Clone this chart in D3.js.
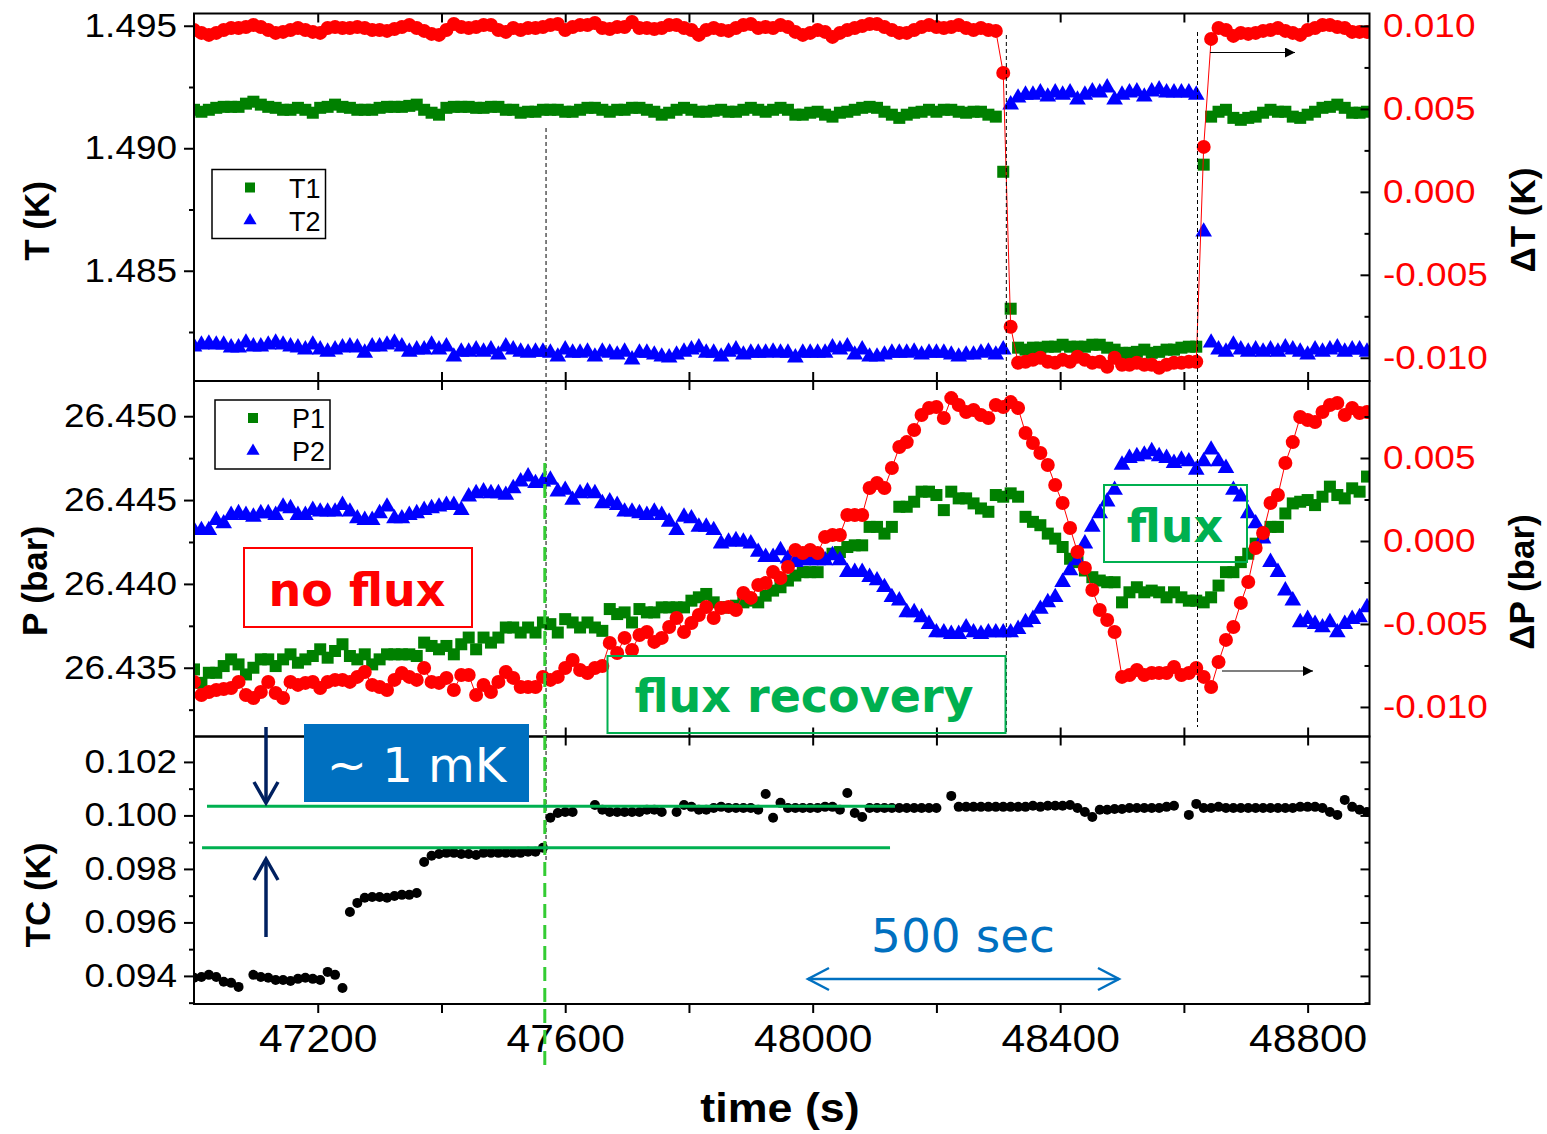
<!DOCTYPE html>
<html>
<head>
<meta charset="utf-8">
<script src="https://cdn.jsdelivr.net/npm/d3@7"></script>
<style>
  body { margin: 0; background: #fff; }
</style>
</head>
<body>
<div id="chart"></div>
<script>
// one reading every 12 s
var time = d3.range(47000, 48900, 12);

// top panel: T1, T2 (K, left axis), dT (K, right axis)
var T1 = [1.49157,1.49149,1.49157,1.49165,1.49169,1.49169,1.49169,1.49182,1.49190,1.49178,
  1.49169,1.49165,1.49157,1.49157,1.49165,1.49157,1.49145,1.49165,1.49169,1.49178,
  1.49169,1.49165,1.49157,1.49157,1.49157,1.49165,1.49169,1.49169,1.49169,1.49173,
  1.49178,1.49157,1.49145,1.49137,1.49165,1.49169,1.49169,1.49169,1.49165,1.49165,
  1.49169,1.49169,1.49157,1.49157,1.49145,1.49149,1.49149,1.49157,1.49157,1.49157,
  1.49149,1.49149,1.49157,1.49165,1.49165,1.49157,1.49149,1.49157,1.49157,1.49165,
  1.49165,1.49157,1.49149,1.49137,1.49145,1.49157,1.49165,1.49157,1.49149,1.49149,
  1.49153,1.49157,1.49149,1.49149,1.49157,1.49165,1.49157,1.49149,1.49157,1.49165,
  1.49157,1.49137,1.49137,1.49145,1.49149,1.49137,1.49129,1.49145,1.49149,1.49157,
  1.49165,1.49169,1.49165,1.49149,1.49137,1.49124,1.49137,1.49145,1.49149,1.49157,
  1.49149,1.49157,1.49157,1.49149,1.49145,1.49149,1.49149,1.49137,1.49129,1.48904,
  1.48345,1.48186,1.48178,1.48186,1.48186,1.48190,1.48190,1.48198,1.48190,1.48190,
  1.48190,1.48198,1.48198,1.48186,1.48178,1.48165,1.48165,1.48169,1.48178,1.48165,
  1.48169,1.48178,1.48178,1.48186,1.48190,1.48190,1.48933,1.49129,1.49149,1.49157,
  1.49124,1.49116,1.49124,1.49129,1.49145,1.49157,1.49149,1.49149,1.49129,1.49124,
  1.49137,1.49149,1.49165,1.49169,1.49178,1.49165,1.49145,1.49145,1.49149];

var T2 = [1.48190,1.48198,1.48202,1.48198,1.48198,1.48186,1.48186,1.48206,1.48190,1.48190,
  1.48198,1.48206,1.48198,1.48190,1.48186,1.48178,1.48198,1.48178,1.48169,1.48178,
  1.48186,1.48190,1.48186,1.48165,1.48190,1.48190,1.48198,1.48206,1.48190,1.48169,
  1.48178,1.48178,1.48198,1.48178,1.48190,1.48149,1.48169,1.48169,1.48178,1.48169,
  1.48178,1.48157,1.48190,1.48178,1.48169,1.48165,1.48169,1.48169,1.48165,1.48149,
  1.48178,1.48165,1.48165,1.48169,1.48149,1.48169,1.48165,1.48157,1.48169,1.48137,
  1.48165,1.48165,1.48157,1.48149,1.48145,1.48157,1.48169,1.48178,1.48186,1.48165,
  1.48165,1.48149,1.48169,1.48178,1.48157,1.48165,1.48165,1.48165,1.48169,1.48165,
  1.48165,1.48145,1.48165,1.48165,1.48165,1.48165,1.48186,1.48178,1.48190,1.48157,
  1.48178,1.48149,1.48149,1.48157,1.48165,1.48165,1.48165,1.48169,1.48157,1.48165,
  1.48165,1.48165,1.48157,1.48149,1.48157,1.48157,1.48165,1.48169,1.48157,1.48178,
  1.49178,1.49206,1.49218,1.49218,1.49227,1.49210,1.49227,1.49218,1.49227,1.49198,
  1.49218,1.49231,1.49227,1.49247,1.49198,1.49218,1.49227,1.49231,1.49210,1.49231,
  1.49239,1.49227,1.49227,1.49227,1.49227,1.49218,1.48659,1.48206,1.48178,1.48169,
  1.48198,1.48178,1.48169,1.48178,1.48169,1.48178,1.48169,1.48186,1.48178,1.48169,
  1.48157,1.48178,1.48169,1.48178,1.48186,1.48169,1.48178,1.48178,1.48169];

var dT = [0.00976,0.00958,0.00946,0.00958,0.00976,0.00988,0.00988,0.00994,0.01006,0.00994,
  0.00976,0.00958,0.00964,0.00976,0.00988,0.00976,0.00964,0.00958,0.00988,0.00994,
  0.00988,0.00988,0.00994,0.00988,0.00976,0.00976,0.00970,0.00982,0.00994,0.01006,
  0.00988,0.00970,0.00952,0.00946,0.00976,0.01012,0.00994,0.00988,0.00994,0.01006,
  0.01006,0.00976,0.00964,0.00988,0.00976,0.00988,0.00988,0.00994,0.01006,0.01012,
  0.00976,0.00994,0.01006,0.01006,0.01018,0.00988,0.00982,0.00994,0.00994,0.01024,
  0.00988,0.00988,0.00982,0.00988,0.01006,0.01006,0.00988,0.00976,0.00946,0.00976,
  0.00988,0.00976,0.00970,0.00988,0.01006,0.01012,0.00988,0.00994,0.00988,0.01006,
  0.00994,0.00964,0.00946,0.00958,0.00976,0.00964,0.00934,0.00958,0.00976,0.00988,
  0.01000,0.01012,0.01012,0.00994,0.00976,0.00958,0.00958,0.00976,0.00994,0.01006,
  0.00994,0.00988,0.00994,0.01006,0.00988,0.00976,0.00988,0.00976,0.00970,0.00717,
  -0.00813,-0.01030,-0.01024,-0.01012,-0.01000,-0.01024,-0.01030,-0.01012,-0.01024,-0.00994,
  -0.01012,-0.01030,-0.01024,-0.01054,-0.01000,-0.01042,-0.01042,-0.01030,-0.01042,-0.01042,
  -0.01060,-0.01042,-0.01030,-0.01030,-0.01024,-0.01024,0.00271,0.00922,0.00988,0.00976,
  0.00940,0.00958,0.00952,0.00958,0.00970,0.00976,0.00988,0.00970,0.00958,0.00946,
  0.00976,0.00988,0.01006,0.01006,0.00994,0.00988,0.00964,0.00964,0.00964];

// middle panel: P1, P2 (bar, left axis), dP (bar, right axis)
var P1 = [26.4349,26.4341,26.4347,26.4347,26.4351,26.4355,26.4352,26.4346,26.4350,26.4355,
  26.4355,26.4351,26.4355,26.4358,26.4353,26.4355,26.4357,26.4361,26.4356,26.4360,
  26.4364,26.4357,26.4355,26.4358,26.4352,26.4355,26.4358,26.4358,26.4358,26.4358,
  26.4357,26.4365,26.4363,26.4361,26.4363,26.4358,26.4364,26.4368,26.4361,26.4368,
  26.4365,26.4368,26.4374,26.4374,26.4371,26.4374,26.4371,26.4377,26.4376,26.4371,
  26.4379,26.4377,26.4374,26.4377,26.4374,26.4372,26.4385,26.4382,26.4383,26.4377,
  26.4385,26.4383,26.4383,26.4386,26.4386,26.4386,26.4386,26.4390,26.4392,26.4394,
  26.4389,26.4386,26.4386,26.4387,26.4389,26.4390,26.4389,26.4393,26.4396,26.4398,
  26.4402,26.4405,26.4407,26.4407,26.4407,26.4415,26.4418,26.4419,26.4422,26.4423,
  26.4423,26.4434,26.4434,26.4430,26.4434,26.4446,26.4446,26.4449,26.4455,26.4455,
  26.4453,26.4444,26.4455,26.4451,26.4451,26.4448,26.4445,26.4443,26.4453,26.4452,
  26.4454,26.4452,26.4440,26.4437,26.4435,26.4430,26.4427,26.4422,26.4415,26.4413,
  26.4408,26.4404,26.4402,26.4401,26.4401,26.4389,26.4395,26.4398,26.4395,26.4396,
  26.4395,26.4392,26.4395,26.4392,26.4390,26.4390,26.4389,26.4392,26.4399,26.4407,
  26.4407,26.4413,26.4418,26.4424,26.4428,26.4434,26.4434,26.4442,26.4448,26.4449,
  26.4450,26.4447,26.4452,26.4458,26.4453,26.4451,26.4457,26.4455,26.4464];

var P2 = [26.4432,26.4432,26.4432,26.4438,26.4436,26.4441,26.4442,26.4441,26.4440,26.4442,
  26.4442,26.4441,26.4446,26.4445,26.4441,26.4441,26.4444,26.4443,26.4443,26.4443,
  26.4447,26.4443,26.4439,26.4438,26.4438,26.4442,26.4446,26.4439,26.4439,26.4441,
  26.4442,26.4444,26.4445,26.4446,26.4447,26.4447,26.4444,26.4452,26.4454,26.4455,
  26.4454,26.4454,26.4453,26.4457,26.4461,26.4464,26.4460,26.4461,26.4462,26.4455,
  26.4456,26.4450,26.4454,26.4455,26.4454,26.4448,26.4449,26.4447,26.4443,26.4443,
  26.4442,26.4441,26.4443,26.4441,26.4437,26.4432,26.4440,26.4439,26.4434,26.4434,
  26.4432,26.4424,26.4425,26.4426,26.4425,26.4424,26.4419,26.4416,26.4416,26.4420,
  26.4415,26.4413,26.4414,26.4414,26.4414,26.4414,26.4417,26.4414,26.4407,26.4407,
  26.4407,26.4404,26.4402,26.4398,26.4392,26.4390,26.4383,26.4383,26.4380,26.4376,
  26.4371,26.4371,26.4370,26.4370,26.4374,26.4371,26.4370,26.4371,26.4371,26.4371,
  26.4371,26.4373,26.4377,26.4379,26.4385,26.4389,26.4392,26.4401,26.4408,26.4414,
  26.4424,26.4434,26.4442,26.4449,26.4456,26.4471,26.4475,26.4476,26.4477,26.4479,
  26.4476,26.4475,26.4472,26.4474,26.4473,26.4468,26.4473,26.4480,26.4473,26.4469,
  26.4456,26.4452,26.4442,26.4436,26.4427,26.4413,26.4407,26.4396,26.4390,26.4377,
  26.4379,26.4376,26.4374,26.4377,26.4371,26.4376,26.4379,26.4380,26.4386];

var dP = [-0.00849,-0.00928,-0.00910,-0.00898,-0.00892,-0.00886,-0.00849,-0.00928,-0.00946,-0.00910,
  -0.00849,-0.00916,-0.00946,-0.00849,-0.00867,-0.00855,-0.00849,-0.00886,-0.00849,-0.00837,
  -0.00837,-0.00849,-0.00819,-0.00789,-0.00867,-0.00880,-0.00898,-0.00837,-0.00795,-0.00819,
  -0.00837,-0.00765,-0.00849,-0.00855,-0.00825,-0.00898,-0.00807,-0.00807,-0.00928,-0.00867,
  -0.00910,-0.00849,-0.00789,-0.00825,-0.00880,-0.00880,-0.00880,-0.00819,-0.00837,-0.00819,
  -0.00765,-0.00717,-0.00777,-0.00795,-0.00765,-0.00753,-0.00614,-0.00675,-0.00584,-0.00657,
  -0.00566,-0.00548,-0.00608,-0.00584,-0.00518,-0.00464,-0.00548,-0.00494,-0.00446,-0.00398,
  -0.00464,-0.00404,-0.00398,-0.00416,-0.00313,-0.00343,-0.00265,-0.00253,-0.00187,-0.00223,
  -0.00157,-0.00054,-0.00072,-0.00054,-0.00072,0.00024,0.00036,0.00036,0.00157,0.00157,
  0.00157,0.00319,0.00349,0.00319,0.00440,0.00566,0.00596,0.00669,0.00759,0.00801,
  0.00807,0.00741,0.00861,0.00819,0.00777,0.00789,0.00759,0.00741,0.00819,0.00807,
  0.00837,0.00801,0.00651,0.00590,0.00530,0.00458,0.00337,0.00229,0.00078,-0.00066,
  -0.00163,-0.00295,-0.00416,-0.00476,-0.00548,-0.00819,-0.00807,-0.00777,-0.00807,-0.00795,
  -0.00795,-0.00795,-0.00759,-0.00807,-0.00795,-0.00765,-0.00819,-0.00880,-0.00729,-0.00596,
  -0.00518,-0.00373,-0.00247,-0.00042,0.00048,0.00229,0.00277,0.00470,0.00596,0.00747,
  0.00729,0.00717,0.00777,0.00819,0.00831,0.00759,0.00801,0.00771,0.00777];

// bottom panel: TC (K), null where no reading
var TC = [0.09393,0.09396,0.09404,0.09396,0.09378,0.09374,0.09359,null,0.09404,0.09396,
  0.09393,0.09385,0.09385,0.09381,0.09389,0.09393,0.09389,0.09385,0.09415,0.09404,
  0.09355,0.09639,0.09673,0.09692,0.09695,0.09695,0.09692,0.09699,0.09703,0.09703,
  0.09710,0.09826,0.09849,0.09856,0.09860,0.09860,0.09856,0.09856,0.09852,0.09860,
  0.09860,0.09860,0.09860,0.09860,0.09860,0.09864,0.09864,0.09879,0.09991,0.10009,
  0.10013,0.10013,null,null,0.10039,0.10021,0.10013,0.10013,0.10013,0.10013,
  0.10013,0.10021,0.10021,0.10013,null,0.10013,0.10039,0.10032,0.10021,0.10021,
  0.10028,0.10032,0.10028,0.10028,0.10028,0.10028,0.10021,0.10080,0.09991,0.10047,
  0.10028,0.10028,0.10028,0.10028,0.10028,0.10032,0.10032,0.10021,0.10084,0.10009,
  0.09994,0.10028,0.10028,0.10028,0.10028,0.10028,0.10028,0.10028,0.10028,0.10028,
  0.10028,null,0.10073,0.10032,0.10032,0.10032,0.10032,0.10032,0.10032,0.10032,
  0.10032,0.10032,0.10032,0.10036,0.10032,0.10036,0.10036,0.10036,0.10039,0.10028,
  0.10013,0.09994,0.10021,0.10021,0.10024,0.10024,0.10028,0.10028,0.10028,0.10028,
  0.10028,0.10032,0.10036,null,0.10002,0.10043,0.10028,0.10028,0.10032,0.10028,
  0.10028,0.10028,0.10028,0.10028,0.10028,0.10028,0.10028,0.10028,0.10028,0.10032,
  0.10032,0.10032,0.10028,0.10013,0.10002,0.10058,0.10032,0.10021,0.10013];

// tick values
var xTicks = d3.range(47200, 48900, 200);
var tMajor = [1.485, 1.490, 1.495], tMinor = [1.4825, 1.4875, 1.4925];
var dtMajor = [-0.010, -0.005, 0, 0.005, 0.010], dtMinor = [-0.0075, -0.0025, 0.0025, 0.0075];
var pMajor = [26.435, 26.440, 26.445, 26.450], pMinor = [26.4325, 26.4375, 26.4425, 26.4475];
var dpMajor = [-0.010, -0.005, 0, 0.005], dpMinor = [-0.0075, -0.0025, 0.0025, 0.0075];
var tcMajor = [0.094, 0.096, 0.098, 0.100, 0.102], tcMinor = [0.093, 0.095, 0.097, 0.099, 0.101];

// annotation times (s) for the guide lines
var tStart = 47569, tStop1 = 48313, tStop2 = 48622, tGreen = 47567;

var svgWidth = 1547, svgHeight = 1134;
var left = 194, right = 1369.5;
var topP = [13.5, 381], midP = [381, 736.5], botP = [736.5, 1004];

var svg = d3.select("#chart").append("svg")
  .attr("width", svgWidth)
  .attr("height", svgHeight);

var x = d3.scaleLinear().domain([47000, 48900]).range([left, right]);
var yT = d3.scaleLinear().domain([1.4805, 1.4955]).range([topP[1], topP[0]]);
var yDT = d3.scaleLinear().domain([-0.0114, 0.01075]).range([topP[1], topP[0]]);
var yP = d3.scaleLinear().domain([26.4309, 26.4521]).range([midP[1], midP[0]]);
var yDP = d3.scaleLinear().domain([-0.01178, 0.00964]).range([midP[1], midP[0]]);
var yTC = d3.scaleLinear().domain([0.09295, 0.10295]).range([botP[1], botP[0]]);

var GREEN = "#008000", BLUE = "#0000ff", RED = "#ff0000";
var FONT = "'Liberation Sans', Arial, sans-serif";
var WFONT = "'DejaVu Sans', Verdana, sans-serif";
var stretch = 1.12;

// clip each panel
var defs = svg.append("defs");
[["clipTop", topP], ["clipMid", midP], ["clipBot", botP]].forEach(function(c) {
  defs.append("clipPath").attr("id", c[0]).append("rect")
    .attr("x", left).attr("y", c[1][0])
    .attr("width", right - left).attr("height", c[1][1] - c[1][0]);
});

function pts(vals) {
  return time.map(function(t, i) { return [t, vals[i]]; }).filter(function(d) { return d[1] != null; });
}

function drawSquares(g, vals, y, color, s) {
  g.append("g").selectAll("rect").data(pts(vals)).enter().append("rect")
    .attr("x", function(d) { return x(d[0]) - s / 2; })
    .attr("y", function(d) { return y(d[1]) - s / 2; })
    .attr("width", s).attr("height", s)
    .attr("fill", color);
}

function drawTriangles(g, vals, y, color, size) {
  var sym = d3.symbol().type(d3.symbolTriangle).size(size);
  g.append("g").selectAll("path").data(pts(vals)).enter().append("path")
    .attr("d", sym)
    .attr("transform", function(d) { return "translate(" + x(d[0]) + "," + y(d[1]) + ")"; })
    .attr("fill", color);
}

function drawCircles(g, vals, y, color, r, withLine) {
  if (withLine) {
    var line = d3.line().x(function(d) { return x(d[0]); }).y(function(d) { return y(d[1]); });
    g.append("path").datum(pts(vals)).attr("d", line)
      .attr("fill", "none").attr("stroke", color).attr("stroke-width", 1);
  }
  g.append("g").selectAll("circle").data(pts(vals)).enter().append("circle")
    .attr("cx", function(d) { return x(d[0]); })
    .attr("cy", function(d) { return y(d[1]); })
    .attr("r", r)
    .attr("fill", color);
}

// data
var gTop = svg.append("g").attr("clip-path", "url(#clipTop)");
drawSquares(gTop, T1, yT, GREEN, 12);
drawTriangles(gTop, T2, yT, BLUE, 120);
drawCircles(gTop, dT, yDT, RED, 7, true);

var gMid = svg.append("g").attr("clip-path", "url(#clipMid)");
drawSquares(gMid, P1, yP, GREEN, 12);
drawTriangles(gMid, P2, yP, BLUE, 120);
drawCircles(gMid, dP, yDP, RED, 7, true);

var gBot = svg.append("g").attr("clip-path", "url(#clipBot)");
drawCircles(gBot, TC, yTC, "#000", 5, false);

// axes
function cleanAxis(g) {
  g.select(".domain").remove();
  g.selectAll(".tick line").attr("stroke", "#000").attr("stroke-width", 2);
  g.attr("font-family", FONT).attr("font-size", 33);
  return g;
}

function yAxisLeft(scale, major, minor, fmt) {
  cleanAxis(svg.append("g").attr("transform", "translate(" + left + ",0)")
    .call(d3.axisLeft(scale).tickValues(minor).tickSize(5).tickFormat("")));
  var g = cleanAxis(svg.append("g").attr("transform", "translate(" + left + ",0)")
    .call(d3.axisLeft(scale).tickValues(major).tickSize(10).tickFormat(d3.format(fmt))));
  g.selectAll(".tick text").attr("fill", "#000")
    .attr("x", -17 / stretch)
    .attr("transform", "scale(" + stretch + ",1)");
}

function yAxisRight(scale, major, minor, fmt, color) {
  cleanAxis(svg.append("g").attr("transform", "translate(" + right + ",0)")
    .call(d3.axisRight(scale).tickValues(minor).tickSize(-5).tickFormat("")));
  var g = cleanAxis(svg.append("g").attr("transform", "translate(" + right + ",0)")
    .call(d3.axisRight(scale).tickValues(major).tickSize(-9)
      .tickFormat(fmt ? function(d) { return d3.format(fmt)(d).replace("\u2212", "-"); } : "")));
  g.selectAll(".tick text").attr("fill", color)
    .attr("x", 13.5 / stretch)
    .attr("transform", "scale(" + stretch + ",1)");
}

function xEdge(yPos, inward, down) {
  var ax = down ? d3.axisBottom(x) : d3.axisTop(x);
  cleanAxis(svg.append("g").attr("transform", "translate(0," + yPos + ")")
    .call(ax.tickValues(xTicks).tickSize(-inward).tickFormat("")));
}

yAxisLeft(yT, tMajor, tMinor, ".3f");
yAxisLeft(yP, pMajor, pMinor, ".3f");
yAxisLeft(yTC, tcMajor, tcMinor, ".3f");
yAxisRight(yDT, dtMajor, dtMinor, ".3f", RED);
yAxisRight(yDP, dpMajor, dpMinor, ".3f", RED);
yAxisRight(yTC, tcMajor, tcMinor, null, "#000");

xEdge(topP[0], 9, false);
xEdge(topP[1], 9, true);
xEdge(midP[0], 9, false);
xEdge(midP[1], 9, true);
xEdge(botP[0], 9, false);

// bottom time axis, ticks outward
var xg = cleanAxis(svg.append("g").attr("transform", "translate(0," + botP[1] + ")")
  .call(d3.axisBottom(x).tickValues(xTicks).tickSize(9)
    .tickFormat(function(d) { return d % 400 === 0 ? d : ""; })));
xg.selectAll(".tick text").attr("fill", "#000").attr("font-size", 38)
  .attr("y", 48).attr("dy", 0)
  .attr("transform", "scale(" + stretch + ",1)");

// panel frames
[topP, midP, botP].forEach(function(p) {
  svg.append("rect").attr("x", left).attr("y", p[0])
    .attr("width", right - left).attr("height", p[1] - p[0])
    .attr("fill", "none").attr("stroke", "#000").attr("stroke-width", 2);
});

// axis titles
function vTitle(tx, ty, txt) {
  svg.append("text").attr("transform", "translate(" + tx + "," + ty + ") rotate(-90)")
    .attr("text-anchor", "middle").attr("font-family", FONT)
    .attr("font-weight", "bold").attr("font-size", 35).text(txt);
}
vTitle(49, 221, "T (K)");
vTitle(47, 581, "P (bar)");
vTitle(50, 895, "TC (K)");
vTitle(1535, 220, "\u0394T (K)");
vTitle(1534, 582, "\u0394P (bar)");

svg.append("text")
  .attr("transform", "translate(780,1122) scale(" + stretch + ",1)")
  .attr("text-anchor", "middle").attr("font-family", FONT)
  .attr("font-weight", "bold").attr("font-size", 40).text("time (s)");

// legends
function legend(bx, by, bw, bh, names) {
  svg.append("rect").attr("x", bx).attr("y", by).attr("width", bw).attr("height", bh)
    .attr("fill", "#fff").attr("stroke", "#000").attr("stroke-width", 1.5);
  svg.append("rect").attr("x", bx + 33).attr("y", by + 13).attr("width", 10).attr("height", 10)
    .attr("fill", GREEN);
  svg.append("path").attr("d", d3.symbol().type(d3.symbolTriangle).size(75)())
    .attr("transform", "translate(" + (bx + 38) + "," + (by + 51) + ")").attr("fill", BLUE);
  svg.append("text").attr("x", bx + 77).attr("y", by + 28).attr("font-family", FONT)
    .attr("font-size", 27).text(names[0]);
  svg.append("text").attr("x", bx + 77).attr("y", by + 61).attr("font-family", FONT)
    .attr("font-size", 27).text(names[1]);
}
legend(212, 169.5, 113.5, 69, ["T1", "T2"]);
legend(215, 400, 115, 69, ["P1", "P2"]);

// dotted guide lines
[[tStart, 128, 863], [tStop1, 35, 733], [tStop2, 32, 727]].forEach(function(l) {
  svg.append("line").attr("x1", x(l[0])).attr("x2", x(l[0]))
    .attr("y1", l[1]).attr("y2", l[2])
    .attr("stroke", "#000").attr("stroke-width", 1).attr("stroke-dasharray", "4,3");
});

// green dashed line
svg.append("line").attr("x1", x(tGreen)).attr("x2", x(tGreen))
  .attr("y1", 463).attr("y2", 1068)
  .attr("stroke", "#33cc33").attr("stroke-width", 3).attr("stroke-dasharray", "14,7");

// arrow heads
defs.append("marker").attr("id", "headBlack")
  .attr("viewBox", "0 0 10 10").attr("refX", 10).attr("refY", 5)
  .attr("markerWidth", 16).attr("markerHeight", 10).attr("markerUnits", "userSpaceOnUse")
  .attr("orient", "auto")
  .append("path").attr("d", "M0,0 L10,5 L0,10 z").attr("fill", "#000");

svg.append("line").attr("x1", 1210).attr("x2", 1295).attr("y1", 52.5).attr("y2", 52.5)
  .attr("stroke", "#000").attr("stroke-width", 1.2).attr("marker-end", "url(#headBlack)");
svg.append("line").attr("x1", 1222).attr("x2", 1313).attr("y1", 671).attr("y2", 671)
  .attr("stroke", "#000").attr("stroke-width", 1.2).attr("marker-end", "url(#headBlack)");

// text boxes
function textBox(bx, by, bw, bh, color, txt, tx, ty, size) {
  svg.append("rect").attr("x", bx).attr("y", by).attr("width", bw).attr("height", bh)
    .attr("fill", "none").attr("stroke", color).attr("stroke-width", 2);
  svg.append("text").attr("x", tx).attr("y", ty).attr("text-anchor", "middle")
    .attr("font-family", WFONT).attr("font-weight", "bold").attr("font-size", size)
    .attr("fill", color).text(txt);
}
textBox(244, 548, 228, 79, RED, "no flux", 357, 606, 46);
textBox(607.5, 656, 398, 77, "#00b050", "flux recovery", 804, 712, 46);
textBox(1104, 485, 143, 77, "#00b050", "flux", 1175, 542, 46);

// ~1 mK step in TC
svg.append("rect").attr("x", 304).attr("y", 724).attr("width", 225).attr("height", 78)
  .attr("fill", "#0070c0");
svg.append("text").attr("x", 416.5).attr("y", 782).attr("text-anchor", "middle")
  .attr("font-family", WFONT).attr("font-size", 48).attr("fill", "#fff").text("~ 1 mK");

svg.append("line").attr("x1", x(47021)).attr("x2", x(48133))
  .attr("y1", yTC(0.10034)).attr("y2", yTC(0.10034))
  .attr("stroke", "#00b050").attr("stroke-width", 3);
svg.append("line").attr("x1", x(47013)).attr("x2", x(48125))
  .attr("y1", yTC(0.09879)).attr("y2", yTC(0.09879))
  .attr("stroke", "#00b050").attr("stroke-width", 3);

var NAVY = "#002060";
function navyArrow(ax, y1, y2) {
  var dir = y2 > y1 ? 1 : -1;
  svg.append("line").attr("x1", ax).attr("x2", ax).attr("y1", y1).attr("y2", y2)
    .attr("stroke", NAVY).attr("stroke-width", 3.5);
  svg.append("path")
    .attr("d", "M" + (ax - 12) + "," + (y2 - dir * 21) + " L" + ax + "," + y2 + " L" + (ax + 12) + "," + (y2 - dir * 21))
    .attr("fill", "none").attr("stroke", NAVY).attr("stroke-width", 3.5);
}
navyArrow(266, 727, 803);
navyArrow(266, 937, 859);

// 500 sec scale bar
var BLUE2 = "#0070c0";
svg.append("text").attr("x", 963).attr("y", 952).attr("text-anchor", "middle")
  .attr("font-family", WFONT).attr("font-size", 47).attr("fill", BLUE2).text("500 sec");
svg.append("line").attr("x1", 808).attr("x2", 1119).attr("y1", 979).attr("y2", 979)
  .attr("stroke", BLUE2).attr("stroke-width", 2.5);
svg.append("path").attr("d", "M829,968 L808,979 L829,990 M1098,968 L1119,979 L1098,990")
  .attr("fill", "none").attr("stroke", BLUE2).attr("stroke-width", 2.5);
</script>
</body>
</html>
